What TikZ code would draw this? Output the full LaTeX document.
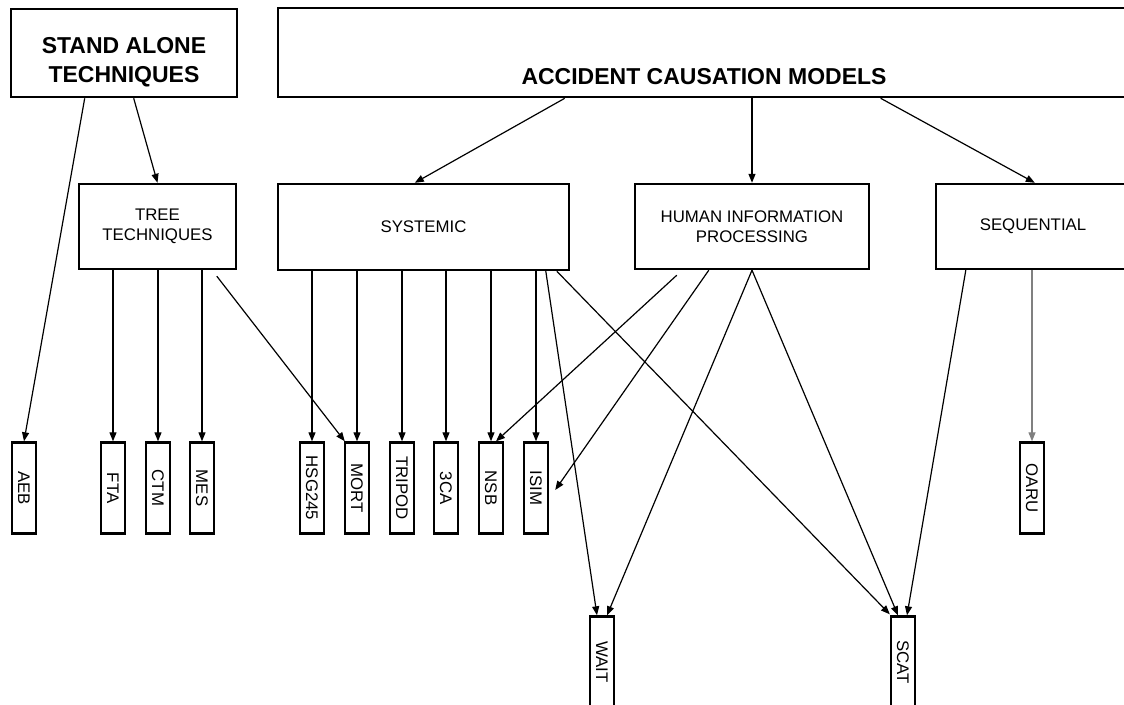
\documentclass[tikz,border=0pt]{standalone}
\usepackage{fontspec}
\setmainfont{Liberation Sans}
\usetikzlibrary{arrows.meta,calc}
\begin{document}
\begin{tikzpicture}[x=1pt,y=-1pt,
 bigbox/.style={draw,line width=2.6pt,inner sep=0pt},
 midbox/.style={draw,line width=2.4pt,inner sep=0pt,font=\fontsize{16.8}{20}\selectfont,align=center},
 leaf/.style={draw,line width=2.4pt,inner sep=0pt,minimum width=24pt,minimum height=91pt,font=\fontsize{16.8}{20}\selectfont},
 bigtext/.style={font=\bfseries\fontsize{23}{29}\selectfont,align=center,inner sep=0pt},
 arr/.style={-{Triangle[length=9pt,width=7pt]},line width=1.2pt},
]
\useasboundingbox (0,0) rectangle (1124,704);
\clip (0,0) rectangle (1124,704);
% top boxes
\node[bigbox,minimum width=226pt,minimum height=88pt] (sa) at (124,53) {};
\node[bigtext] (saT) at (124,62.5) {STAND ALONE\\TECHNIQUES};
\node[bigbox,minimum width=862pt,minimum height=89pt] (acm) at (709,52.5) {};
\node[bigtext] (acmT) at (704,77) {ACCIDENT CAUSATION MODELS};
% middle boxes
\node[midbox,minimum width=157pt,minimum height=85pt] (tree) at (157.5,226.5) {TREE\\TECHNIQUES};
\node[midbox,minimum width=291pt,minimum height=86pt] (sys) at (423.5,227) {SYSTEMIC};
\node[midbox,minimum width=234pt,minimum height=85pt] (hip) at (752,226.5) {HUMAN INFORMATION\\PROCESSING};
\node[midbox,minimum width=194pt,minimum height=85pt] (seq) at (1033,226.5) {SEQUENTIAL};
% leaves
\node[leaf] (aeb) at (24,488) {\rotatebox{-90}{AEB}};
\node[leaf] (fta) at (113,488) {\rotatebox{-90}{FTA}};
\node[leaf] (ctm) at (158,488) {\rotatebox{-90}{CTM}};
\node[leaf] (mes) at (202,488) {\rotatebox{-90}{MES}};
\node[leaf] (hsg) at (312,488) {\rotatebox{-90}{HSG245}};
\node[leaf] (mort) at (357,488) {\rotatebox{-90}{MORT}};
\node[leaf] (tripod) at (402,488) {\rotatebox{-90}{TRIPOD}};
\node[leaf] (tca) at (446,488) {\rotatebox{-90}{3CA}};
\node[leaf] (nsb) at (491,488) {\rotatebox{-90}{NSB}};
\node[leaf] (isim) at (536,488) {\rotatebox{-90}{ISIM}};
\node[leaf] (oaru) at (1032,488) {\rotatebox{-90}{OARU}};
\node[leaf] (wait) at (602,662) {\rotatebox{-90}{WAIT}};
\node[leaf] (scat) at (903,662) {\rotatebox{-90}{SCAT}};
% connectors from top
\draw[arr] ($(sa.south west)+(75,0)$) -- (aeb.north);
\draw[arr] ($(sa.south west)+(124,0)$) -- (tree.north);
\draw[arr] ($(acm.south west)+(288,0)$) -- ($(sys.north west)+(138,0)$);
\draw[arr] (hip.north |- acm.south) -- (hip.north);
\draw[arr] ($(acm.south west)+(604,0)$) -- ($(seq.north west)+(100,0)$);
% tree
\draw[arr] (fta.north |- tree.south) -- (fta.north);
\draw[arr] (ctm.north |- tree.south) -- (ctm.north);
\draw[arr] (mes.north |- tree.south) -- (mes.north);
\draw[arr] ($(tree.south west)+(139,6)$) -- ($(mort.north west)+(1,0)$);
% systemic
\draw[arr] (hsg.north |- sys.south) -- (hsg.north);
\draw[arr] (mort.north |- sys.south) -- (mort.north);
\draw[arr] (tripod.north |- sys.south) -- (tripod.north);
\draw[arr] (tca.north |- sys.south) -- (tca.north);
\draw[arr] (nsb.north |- sys.south) -- (nsb.north);
\draw[arr] (isim.north |- sys.south) -- (isim.north);
\draw[arr] ($(sys.south west)+(269,0)$) -- ($(wait.north)+(-5,0)$);
\draw[arr] ($(sys.south west)+(280,0)$) -- ($(scat.north west)+(0,-1)$);
% human information processing
\draw[arr] ($(hip.south west)+(43,5)$) -- ($(nsb.north)+(5,0)$);
\draw[arr] ($(hip.south west)+(75,0)$) -- ($(isim.east)+(6,2)$);
\draw[arr] (hip.south) -- ($(wait.north)+(5,0)$);
\draw[arr] (hip.south) -- ($(scat.north)+(-5,0)$);
% sequential
\draw[arr] ($(seq.south west)+(31,0)$) -- ($(scat.north)+(4,0)$);
\draw[arr,gray] (oaru.north |- seq.south) -- (oaru.north);
\end{tikzpicture}
\end{document}
